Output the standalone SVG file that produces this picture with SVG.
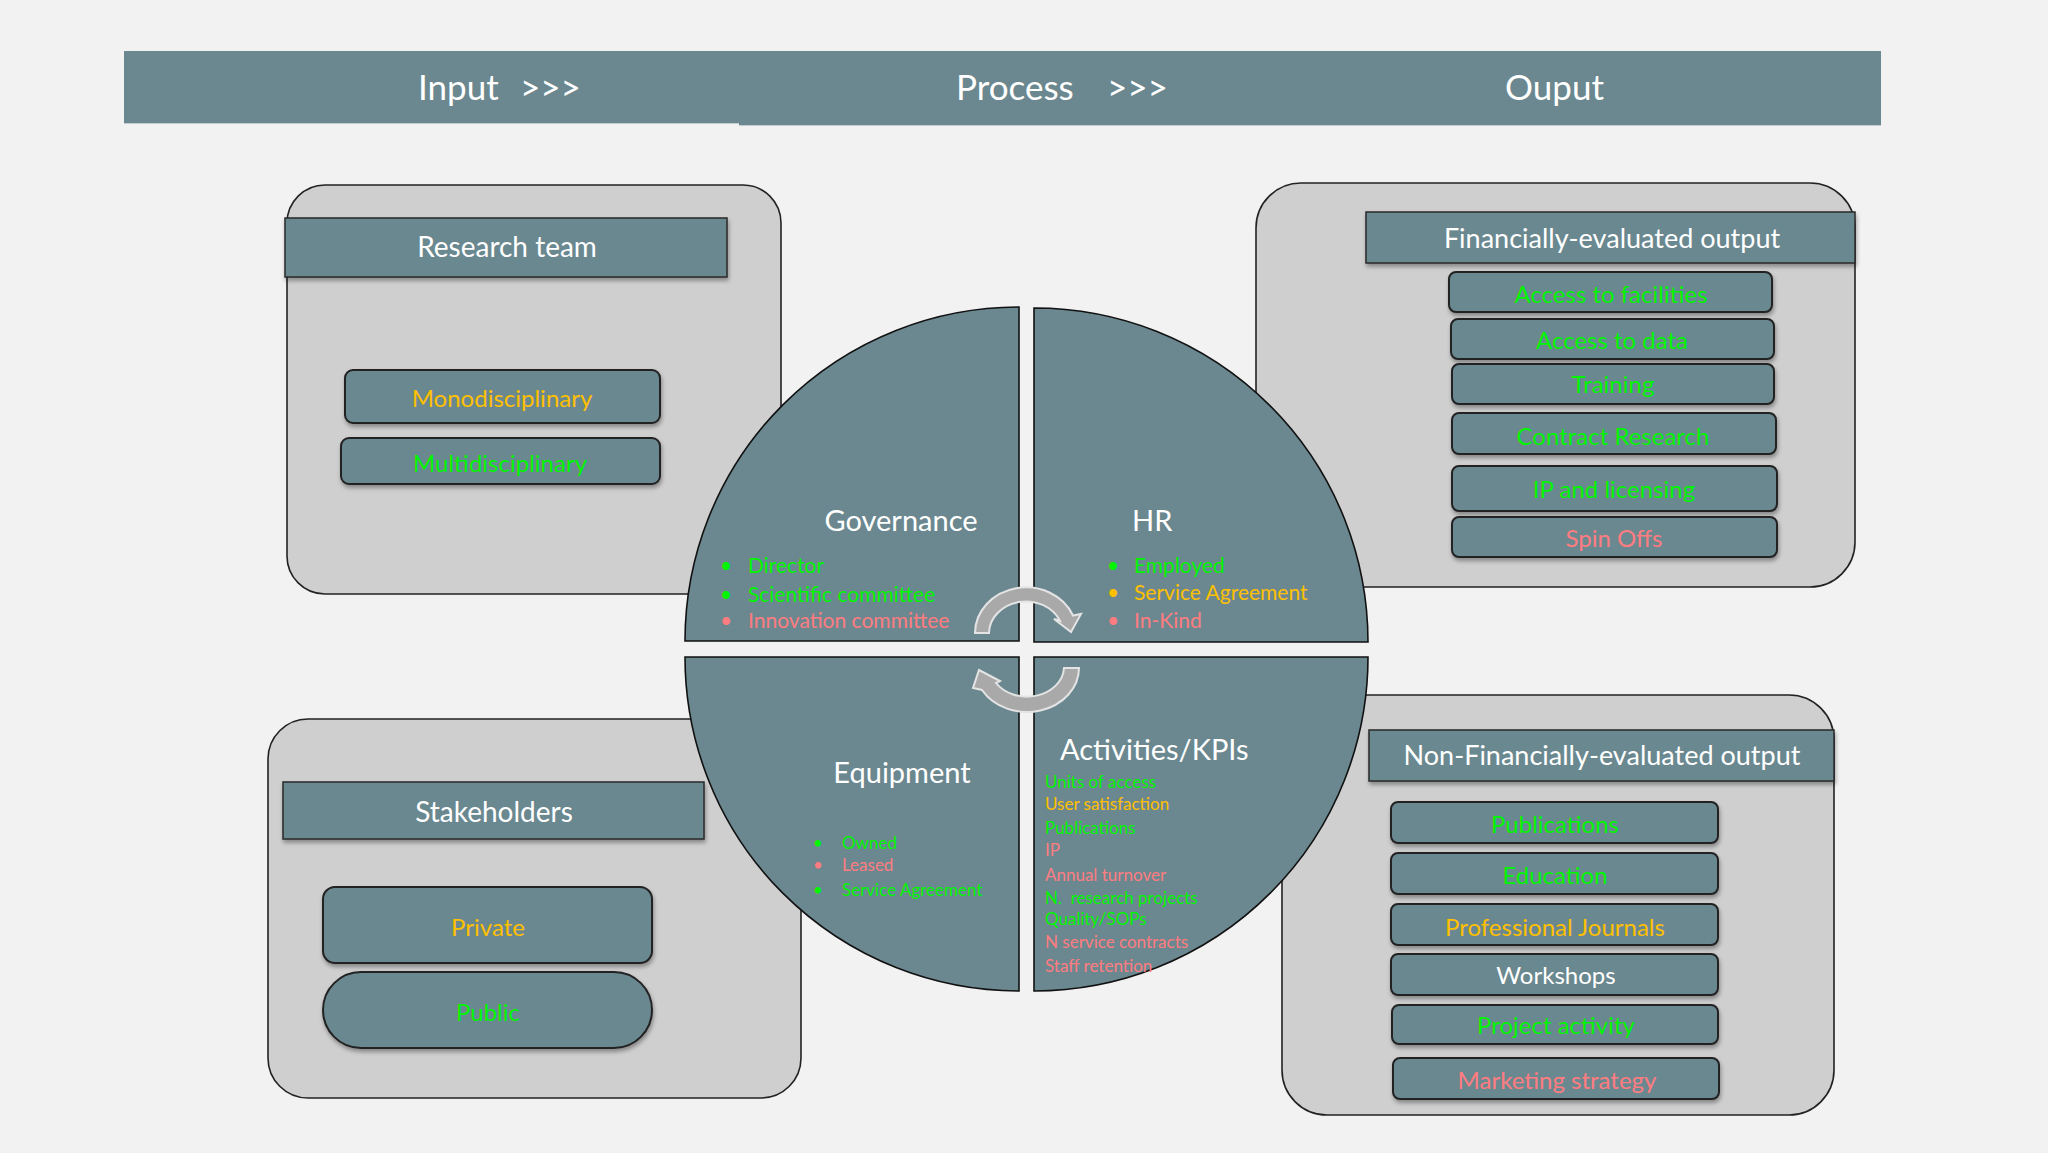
<svg xmlns="http://www.w3.org/2000/svg" width="2048" height="1153" viewBox="0 0 2048 1153">
<defs>
<filter id="sh" x="-10%" y="-20%" width="120%" height="160%">
<feDropShadow dx="1" dy="3" stdDeviation="2" flood-color="#000" flood-opacity="0.35"/>
</filter>
<style>
text{font-family:Lato,"Open Sans","Liberation Sans",sans-serif;}
.hd{font-size:35px;fill:#fff;white-space:pre;}
.outer{fill:#cfcfcf;stroke:#222;stroke-width:1.6;}
.bar{fill:#6b8890;stroke:#2a2a2a;stroke-width:1.5;filter:url(#sh);}
.item{fill:#6b8890;stroke:#222;stroke-width:2;filter:url(#sh);}
.quad{fill:#6b8890;stroke:#111;stroke-width:1.6;}
.arrow{fill:#a9a9a9;stroke:#e4e4e4;stroke-width:2;}
.tt{font-size:28px;fill:#fff;text-anchor:middle;}
.it{font-size:24px;text-anchor:middle;}
.qt{font-size:29px;fill:#fff;}
.b21{font-size:21px;}
.b17{font-size:17px;white-space:pre;}
.g{fill:#00f500;}
.o{fill:#ffc000;}
.r{fill:#ff7c80;}
.w{fill:#fff;}
</style>
</defs>
<rect x="0" y="0" width="2048" height="1153" fill="#f2f2f2"/>

<g id="header">
<rect x="124" y="51" width="616" height="72" fill="#6b8890"/>
<rect x="739" y="51" width="1142" height="74" fill="#6b8890"/>
<line x1="124" y1="123.5" x2="739" y2="123.5" stroke="#c3ccd0" stroke-width="1"/>
<line x1="739" y1="125.5" x2="1881" y2="125.5" stroke="#c3ccd0" stroke-width="1"/>
<text class="hd" y="100"><tspan x="418">Input</tspan> <tspan x="520">&gt;&gt;&gt;</tspan></text>
<text class="hd" y="100"><tspan x="956">Process</tspan> <tspan x="1107">&gt;&gt;&gt;</tspan></text>
<text class="hd" x="1505" y="100">Ouput</text>
</g>

<g id="research-team">
<rect class="outer" x="287" y="185" width="494" height="409" rx="38"/>
<rect class="bar" x="285" y="218" width="442" height="59"/>
<text class="tt" x="507" y="257">Research team</text>
<rect class="item" x="345" y="370" width="315" height="53" rx="8"/>
<text class="it o" x="502" y="407">Monodisciplinary</text>
<rect class="item" x="341" y="438" width="319" height="46" rx="8"/>
<text class="it g" x="500" y="472">Multidisciplinary</text>
</g>

<g id="financial-output">
<rect class="outer" x="1256" y="183" width="599" height="404" rx="45"/>
<rect class="bar" x="1366" y="212" width="489" height="51"/>
<text class="tt" x="1612" y="248" style="font-size:27px">Financially-evaluated output</text>
<rect class="item" x="1449" y="272" width="323" height="40" rx="7"/>
<text class="it g" x="1611" y="303">Access to facilities</text>
<rect class="item" x="1451" y="319" width="323" height="40" rx="7"/>
<text class="it g" x="1612" y="349">Access to data</text>
<rect class="item" x="1452" y="364" width="322" height="40" rx="7"/>
<text class="it g" x="1613" y="393">Training</text>
<rect class="item" x="1452" y="413" width="324" height="41" rx="7"/>
<text class="it g" x="1613" y="445">Contract Research</text>
<rect class="item" x="1452" y="466" width="325" height="45" rx="7"/>
<text class="it g" x="1614" y="498">IP and licensing</text>
<rect class="item" x="1452" y="517" width="325" height="40" rx="7"/>
<text class="it r" x="1614" y="547">Spin Offs</text>
</g>

<g id="stakeholders">
<rect class="outer" x="268" y="719" width="533" height="379" rx="40"/>
<rect class="bar" x="283" y="782" width="421" height="57"/>
<text class="tt" x="494" y="822">Stakeholders</text>
<rect class="item" x="323" y="887" width="329" height="76" rx="12"/>
<text class="it o" x="488" y="936">Private</text>
<rect class="item" x="323" y="972" width="329" height="76" rx="38"/>
<text class="it g" x="488" y="1021">Public</text>
</g>

<g id="non-financial-output">
<rect class="outer" x="1282" y="695" width="552" height="420" rx="45"/>
<rect class="bar" x="1369" y="730" width="465" height="51"/>
<text class="tt" x="1602" y="765" style="font-size:27px">Non-Financially-evaluated output</text>
<rect class="item" x="1391" y="802" width="327" height="41" rx="7"/>
<text class="it g" x="1555" y="833">Publications</text>
<rect class="item" x="1391" y="853" width="327" height="41" rx="7"/>
<text class="it g" x="1555" y="884">Education</text>
<rect class="item" x="1391" y="904" width="327" height="41" rx="7"/>
<text class="it o" x="1555" y="936">Professional Journals</text>
<rect class="item" x="1391" y="954" width="327" height="41" rx="7"/>
<text class="it w" x="1556" y="984">Workshops</text>
<rect class="item" x="1392" y="1005" width="326" height="39" rx="7"/>
<text class="it g" x="1556" y="1034">Project activity</text>
<rect class="item" x="1393" y="1058" width="326" height="41" rx="7"/>
<text class="it r" x="1557" y="1089">Marketing strategy</text>
</g>

<g id="governance">
<path class="quad" d="M1019,641 L685,641 A334,334 0 0 1 1019,307 Z"/>
<text class="qt" x="901" y="531" text-anchor="middle">Governance</text>
<text class="b21 g" y="573"><tspan x="720">•</tspan><tspan x="748">Director</tspan></text>
<text class="b21 g" y="602"><tspan x="720">•</tspan><tspan x="748">Scientific committee</tspan></text>
<text class="b21 r" y="628"><tspan x="720">•</tspan><tspan x="748">Innovation committee</tspan></text>
</g>

<g id="hr">
<path class="quad" d="M1034,642 L1034,308 A334,334 0 0 1 1368,642 Z"/>
<text class="qt" x="1132" y="531">HR</text>
<text class="b21 g" y="573"><tspan x="1107">•</tspan><tspan x="1134">Employed</tspan></text>
<text class="b21 o" y="600"><tspan x="1107">•</tspan><tspan x="1134">Service Agreement</tspan></text>
<text class="b21 r" y="628"><tspan x="1107">•</tspan><tspan x="1134">In-Kind</tspan></text>
</g>

<g id="equipment">
<path class="quad" d="M1019,657 L1019,991 A334,334 0 0 1 685,657 Z"/>
<text class="qt" x="902" y="783" text-anchor="middle">Equipment</text>
<text class="b17 g" y="849"><tspan x="813">•</tspan><tspan x="842">Owned</tspan></text>
<text class="b17 r" y="871"><tspan x="813">•</tspan><tspan x="842">Leased</tspan></text>
<text class="b17 g" y="896"><tspan x="813">•</tspan><tspan x="842">Service Agreement</tspan></text>
</g>

<g id="activities-kpis">
<path class="quad" d="M1034,657 L1368,657 A334,334 0 0 1 1034,991 Z"/>
<text class="qt" x="1060" y="760">Activities/KPIs</text>
<text class="b17 g" x="1045" y="788">Units of access</text>
<text class="b17 o" x="1045" y="810">User satisfaction</text>
<text class="b17 g" x="1045" y="834">Publications</text>
<text class="b17 r" x="1045" y="856">IP</text>
<text class="b17 r" x="1045" y="881">Annual turnover</text>
<text class="b17 g" x="1045" y="904">N.  research projects</text>
<text class="b17 g" x="1045" y="925">Quality/SOPs</text>
<text class="b17 r" x="1045" y="948">N service contracts</text>
<text class="b17 r" x="1045" y="972">Staff retention</text>
</g>

<g id="connectors">
<path class="arrow" d="M975,633 A51,46 0 0 1 1073,615.5 L1081,614 L1071,632 L1054,619 L1060,620.8 A37,32 0 0 0 989,633 Z"/>
<path class="arrow" d="M1079,668 A52,44 0 0 1 982,690 L973,688 L979,670 L1000,681 L996,683 A37,30 0 0 0 1064,668 Z"/>
</g>
</svg>
